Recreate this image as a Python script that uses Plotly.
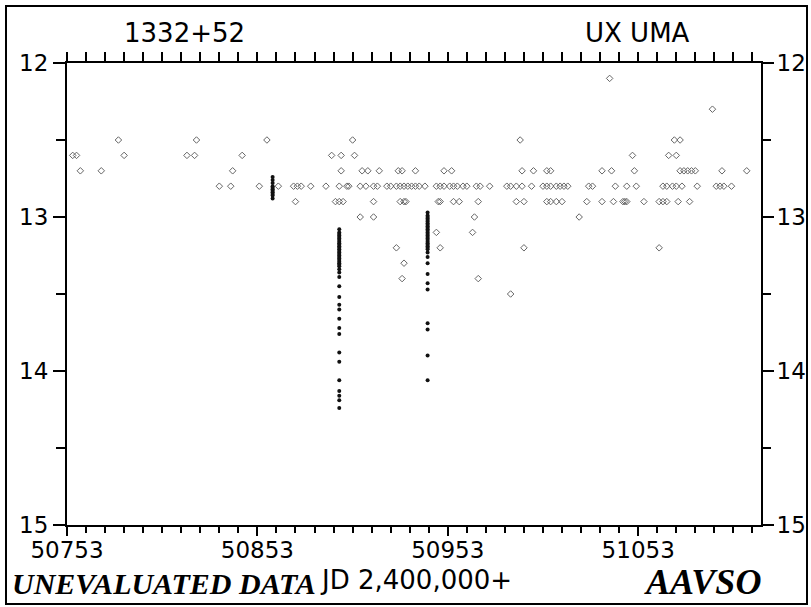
import plotly.graph_objects as go

# ---- data (JD - 2,400,000 and magnitude) ----
vis_jd = [
    51038,
    51092,
    50780, 50821, 50858, 50903, 50991, 51072, 51075,
    50756, 50758, 50783, 50816, 50820, 50845, 50892, 50897, 50904, 51050, 51069, 51073,
    50760, 50771, 50840, 50897, 50908, 50911, 50917, 50927, 50929, 50936, 50951, 50955,
    50992, 50998, 51005, 51007, 51034, 51039, 51051, 51075, 51077, 51079, 51081, 51083,
    51097, 51110,
    50833, 50839, 50854, 50864, 50872, 50874, 50876, 50881, 50889, 50896, 50900, 50901,
    50907, 50910, 50914, 50916, 50921, 50923, 50926, 50928, 50930, 50932, 50934, 50936,
    50938, 50941, 50947, 50949, 50951, 50954, 50956, 50958, 50961, 50963, 50968, 50970,
    50975, 50984, 50986, 50989, 50992, 50997, 51003, 51005, 51007, 51010, 51012, 51014,
    51016, 51027, 51029, 51041, 51047, 51052, 51066, 51068, 51071, 51073, 51076, 51084,
    51094, 51096, 51098, 51102,
    50873, 50894, 50896, 50898, 50914, 50928, 50930, 50931, 50948, 50949, 50956, 50959,
    50969, 50989, 50993, 51005, 51007, 51010, 51013, 51026, 51034, 51040, 51045, 51046,
    51047, 51056, 51064, 51066, 51068, 51074, 51080,
    50907, 50914, 50967, 51022,
    50947, 50966,
    50926, 50949, 50993, 51064,
    50930,
    50929, 50969,
    50986,
]
vis_mag = (
    [12.1]
    + [12.3]
    + [12.5] * 7
    + [12.6] * 12
    + [12.7] * 26
    + [12.8] * 64
    + [12.9] * 31
    + [13.0] * 4
    + [13.1] * 2
    + [13.2] * 4
    + [13.3]
    + [13.4] * 2
    + [13.5]
)

bar1_jd = 50861
bar1_mag = [12.74, 12.76, 12.78, 12.80, 12.81, 12.82, 12.83, 12.84, 12.85, 12.86, 12.88]
bar2_jd = 50896
bar2_mag = [13.08, 13.10, 13.11, 13.12, 13.13, 13.14, 13.15, 13.16, 13.17, 13.18, 13.19,
            13.20, 13.21, 13.22, 13.23, 13.24, 13.25, 13.26, 13.27, 13.28, 13.29, 13.30,
            13.31, 13.32, 13.34, 13.36, 13.39, 13.45, 13.52, 13.57, 13.60, 13.66, 13.72,
            13.76, 13.88, 13.94, 14.06, 14.13, 14.16, 14.19, 14.24]
bar3_jd = 50942.4
bar3_mag = [12.97, 12.99, 13.00, 13.01, 13.02, 13.03, 13.04, 13.05, 13.06, 13.07, 13.08,
            13.09, 13.10, 13.11, 13.12, 13.13, 13.14, 13.15, 13.16, 13.17, 13.18, 13.19,
            13.20, 13.21, 13.23, 13.26, 13.30, 13.37, 13.43, 13.47, 13.69, 13.73, 13.90,
            14.06]

x_tickvals = [50753, 50853, 50953, 51053]
x_ticktext = ["50753", "50853", "50953", "51053"]
y_tickvals = [12, 13, 14, 15]
y_ticktext = ["12", "13", "14", "15"]
x_range = [50753, 51117.5]
y_range = [15, 12]

dense_jd = [bar1_jd] * len(bar1_mag) + [bar2_jd] * len(bar2_mag) + [bar3_jd] * len(bar3_mag)
dense_mag = bar1_mag + bar2_mag + bar3_mag

fig = go.Figure()
fig.add_trace(go.Scatter(
    x=vis_jd, y=vis_mag, mode="markers",
    marker=dict(symbol="diamond-open", size=5, color="#666666", line=dict(width=1, color="#666666")),
    showlegend=False, hoverinfo="x+y"))
fig.add_trace(go.Scatter(
    x=dense_jd, y=dense_mag, mode="markers", xaxis="x2", yaxis="y2",
    marker=dict(symbol="circle", size=4, color="#111111"),
    showlegend=False, hoverinfo="x+y"))

sans = "DejaVu Sans, Liberation Sans, sans-serif"
serif = "Liberation Serif, Times New Roman, serif"
tickfont = dict(family=sans, size=23, color="black")
axis_common = dict(showline=True, linecolor="black", linewidth=2, showgrid=False,
                   zeroline=False, ticks="outside", tickcolor="black", tickwidth=2)

fig.update_layout(
    width=811, height=607,
    margin=dict(l=67, r=50, t=63, b=82, autoexpand=False),
    paper_bgcolor="white", plot_bgcolor="white",
    xaxis=dict(range=x_range, side="bottom", tickmode="array", tickvals=x_tickvals,
               ticktext=x_ticktext, ticklen=9, tickfont=tickfont, ticklabelstandoff=-6,
               minor=dict(ticks="outside", tick0=50753, dtick=10, ticklen=6,
                          tickwidth=1.5, tickcolor="black", showgrid=False),
               **axis_common),
    xaxis2=dict(range=x_range, side="top", overlaying="x", tickmode="linear",
                tick0=50753, dtick=10, ticklen=9, showticklabels=False,
                **axis_common),
    yaxis=dict(range=y_range, side="left", tickmode="array", tickvals=y_tickvals,
               ticktext=y_ticktext, ticklen=12, tickfont=tickfont,
               minor=dict(ticks="outside", tick0=12, dtick=0.5, ticklen=9,
                          tickwidth=1.5, tickcolor="black", showgrid=False),
               **axis_common),
    yaxis2=dict(range=y_range, side="right", overlaying="y", tickmode="array",
                tickvals=y_tickvals, ticktext=y_ticktext, ticklen=11, tickfont=tickfont,
                ticklabelstandoff=-2,
                minor=dict(ticks="outside", tick0=12, dtick=0.5, ticklen=8,
                           tickwidth=1.5, tickcolor="black", showgrid=False),
                **axis_common),
    shapes=[dict(type="rect", xref="paper", yref="paper",
                 x0=(6 - 67) / 694, x1=(807 - 67) / 694,
                 y0=(525 - 604) / 462, y1=(525 - 6) / 462,
                 line=dict(color="black", width=2))],
)

def px(x):
    return (x - 67) / 694

def py(y):
    return (525 - y) / 462

fig.add_annotation(text="1332+52", xref="paper", yref="paper", x=px(184), y=py(33),
                   xanchor="center", yanchor="middle", showarrow=False,
                   font=dict(family=sans, size=26, color="black"))
fig.add_annotation(text="UX UMA", xref="paper", yref="paper", x=px(637), y=py(33),
                   xanchor="center", yanchor="middle", showarrow=False,
                   font=dict(family=sans, size=26, color="black"))
fig.add_annotation(text="<b><i>UNEVALUATED DATA</i></b>", xref="paper", yref="paper",
                   x=px(10), y=py(583), xanchor="left", yanchor="middle", showarrow=False,
                   font=dict(family=serif, size=30, color="black"))
fig.add_annotation(text="JD 2,400,000+", xref="paper", yref="paper",
                   x=px(318), y=py(580), xanchor="left", yanchor="middle", showarrow=False,
                   font=dict(family=sans, size=26, color="black"))
fig.add_annotation(text="<b><i>AAVSO</i></b>", xref="paper", yref="paper",
                   x=px(702), y=py(582), xanchor="center", yanchor="middle", showarrow=False,
                   font=dict(family=serif, size=36, color="black"))

# remove the default 8px page margin so the 811x607 figure fills the window
fig.write_html("out.html", config={"displayModeBar": False},
               post_script="document.body.style.margin='0';document.body.style.overflow='hidden';")
